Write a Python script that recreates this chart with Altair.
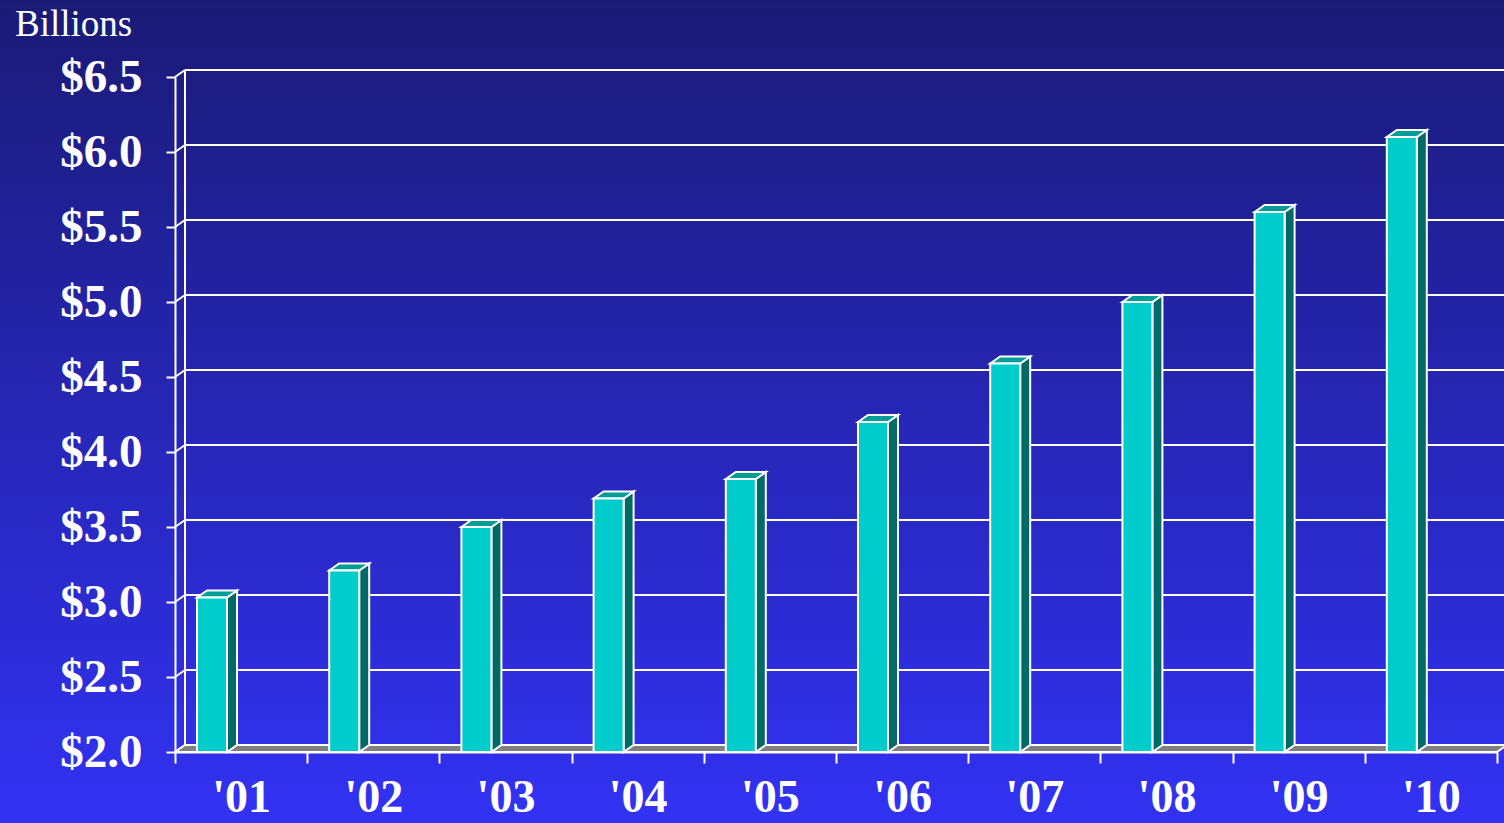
import altair as alt
import pandas as pd

# ---- data ----
years = ["'01", "'02", "'03", "'04", "'05", "'06", "'07", "'08", "'09", "'10"]
values = [3.03, 3.21, 3.50, 3.69, 3.82, 4.20, 4.59, 5.00, 5.60, 6.10]
y_ticks = [2.0, 2.5, 3.0, 3.5, 4.0, 4.5, 5.0, 5.5, 6.0, 6.5]

# ---- layout constants ----
W, H = 1322, 675          # plot area (px)
PAD_L, PAD_T = 175, 77
N = len(years)
Y0, Y1 = 2.0, 6.5
PX_PER_X = W / N
PX_PER_Y = H / (Y1 - Y0)
DEPTH_X, DEPTH_Y = 10, 7  # 3-D depth offset in px
dxu = DEPTH_X / PX_PER_X
dyu = DEPTH_Y / PX_PER_Y
BAR_LEFT = 22 / PX_PER_X
BAR_W = 30 / PX_PER_X

FONT = "Liberation Serif"
WHITE = "#ffffff"
LW = 2

xs = alt.Scale(domain=[0, N], nice=False, zero=False)
ys = alt.Scale(domain=[Y0, Y1], nice=False, zero=False)

label_expr = "datum.value < %d ? [%s][datum.value] : ''" % (
    N, ",".join('"%s"' % y for y in years))

X_AX = alt.Axis(
    values=list(range(N + 1)), labelExpr=label_expr, labelOffset=PX_PER_X / 2,
    labelFont=FONT, labelFontWeight="bold", labelFontSize=46, labelColor=WHITE,
    labelPadding=12, tickColor=WHITE, tickSize=11, tickWidth=LW,
    domainColor=WHITE, domainWidth=LW, grid=False, title=None, zindex=2,
    labelFlush=False, labelOverlap=False)
Y_AX = alt.Axis(
    values=y_ticks, format="$.1f",
    labelFont=FONT, labelFontWeight="bold", labelFontSize=47, labelColor=WHITE,
    labelPadding=24, tickColor=WHITE, tickSize=9, tickWidth=LW,
    domainColor=WHITE, domainWidth=LW, grid=False, title=None, zindex=2,
    labelFlush=False, labelOverlap=False)

# ---- tables ----
bars = pd.DataFrame({"i": range(N), "year": years, "v": values})
bars["xl"] = bars["i"] + BAR_LEFT
bars["xr"] = bars["xl"] + BAR_W
bars["base"] = Y0

side_rows, top_rows = [], []
for i, v in enumerate(values):
    xl = i + BAR_LEFT
    xr = xl + BAR_W
    side_rows += [
        {"b": i, "x": xr, "y": v, "y2": Y0},
        {"b": i, "x": xr + dxu, "y": v + dyu, "y2": Y0 + dyu},
    ]
    top_rows += [
        {"b": i, "x": xl, "y": v, "y2": v},
        {"b": i, "x": xl + dxu, "y": v + dyu, "y2": v},
        {"b": i, "x": xr, "y": v + dyu, "y2": v},
        {"b": i, "x": xr + dxu, "y": v + dyu, "y2": v + dyu},
    ]
side = pd.DataFrame(side_rows)
top = pd.DataFrame(top_rows)

floor = pd.DataFrame([
    {"x": 0, "y": Y0, "y2": Y0},
    {"x": dxu, "y": Y0 + dyu, "y2": Y0},
    {"x": N, "y": Y0 + dyu, "y2": Y0},
    {"x": N + dxu, "y": Y0 + dyu, "y2": Y0 + dyu},
])

grid = pd.DataFrame({"y": y_ticks, "x0": 0.0, "x1": float(N)})
wall = pd.DataFrame({"x0": [0.0], "ya": [Y0 + dyu], "yb": [Y1 + dyu], "xb": [dxu]})
one = pd.DataFrame({"a": [0]})

# ---- layers ----
bg = alt.Chart(one).mark_rect(
    color=alt.Gradient(
        gradient="linear",
        stops=[alt.GradientStop(color="#1a1a76", offset=0),
               alt.GradientStop(color="#3232f4", offset=1)],
        x1=0, x2=0, y1=0, y2=1),
).encode(
    x=alt.value(-PAD_L), x2=alt.value(1504 - PAD_L),
    y=alt.value(-PAD_T), y2=alt.value(823 - PAD_T),
)

back_grid = alt.Chart(grid).mark_rule(
    color=WHITE, strokeWidth=LW, xOffset=DEPTH_X, yOffset=-DEPTH_Y,
    x2Offset=DEPTH_X + 20, y2Offset=-DEPTH_Y,
).encode(
    x=alt.X("x0:Q", scale=xs, axis=X_AX),
    x2="x1:Q",
    y=alt.Y("y:Q", scale=ys, axis=Y_AX),
)

left_diag = alt.Chart(grid).mark_rule(
    color=WHITE, strokeWidth=LW, x2Offset=DEPTH_X, y2Offset=-DEPTH_Y,
).encode(
    x=alt.X("x0:Q", scale=xs, axis=X_AX),
    x2="x0:Q",
    y=alt.Y("y:Q", scale=ys, axis=Y_AX),
    y2="y:Q",
)

back_left = alt.Chart(wall).mark_rule(
    color=WHITE, strokeWidth=LW,
).encode(
    x=alt.X("xb:Q", scale=xs, axis=X_AX),
    y=alt.Y("ya:Q", scale=ys, axis=Y_AX),
    y2="yb:Q",
)

floor_l = alt.Chart(floor).mark_area(
    color="#808080", stroke=WHITE, strokeWidth=LW, opacity=1,
).encode(
    x=alt.X("x:Q", scale=xs, axis=X_AX),
    y=alt.Y("y:Q", scale=ys, axis=Y_AX),
    y2="y2:Q",
)

side_l = alt.Chart(side).mark_area(
    color="#006a66", stroke=WHITE, strokeWidth=LW, opacity=1,
).encode(
    x=alt.X("x:Q", scale=xs, axis=X_AX),
    y=alt.Y("y:Q", scale=ys, axis=Y_AX),
    y2="y2:Q",
    detail="b:N",
)

top_l = alt.Chart(top).mark_area(
    color="#009c98", stroke=WHITE, strokeWidth=LW, opacity=1,
).encode(
    x=alt.X("x:Q", scale=xs, axis=X_AX),
    y=alt.Y("y:Q", scale=ys, axis=Y_AX),
    y2="y2:Q",
    detail="b:N",
)

front_l = alt.Chart(bars).mark_rect(
    color="#00cccc", stroke=WHITE, strokeWidth=LW,
).encode(
    x=alt.X("xl:Q", scale=xs, axis=X_AX),
    x2="xr:Q",
    y=alt.Y("base:Q", scale=ys, axis=Y_AX),
    y2="v:Q",
)

billions = alt.Chart(one).mark_text(
    text="Billions", font=FONT, fontSize=37, color=WHITE, align="left",
    baseline="alphabetic",
).encode(x=alt.value(15 - PAD_L), y=alt.value(36 - PAD_T))

chart = alt.layer(
    bg, back_grid, left_diag, back_left, floor_l, side_l, top_l, front_l, billions
).properties(
    width=W, height=H,
    autosize=alt.AutoSizeParams(type="none"),
    padding={"left": PAD_L, "top": PAD_T, "right": 1504 - PAD_L - W,
             "bottom": 823 - PAD_T - H},
).configure_view(stroke=None).configure(background="#1a1a76")

chart.save("out.html", embed_options={"renderer": "svg", "actions": False})
